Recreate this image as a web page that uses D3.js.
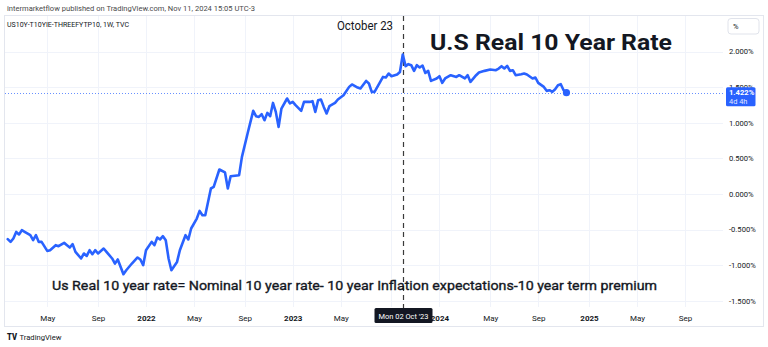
<!DOCTYPE html>
<html><head><meta charset="utf-8">
<script src="https://cdn.jsdelivr.net/npm/d3@7"></script>
<style>
html,body{margin:0;padding:0;background:#fff;}
svg{display:block;}
text{font-family:Roboto,"Liberation Sans",sans-serif;}
</style></head>
<body><svg id="c" width="768" height="347"></svg>
<script>
// ---------- data ----------
const headerText = "intermarketflow published on TradingView.com, Nov 11, 2024 15:05 UTC-3";
const symbolText = "US10Y-T10YIE-THREEFYTP10, 1W, TVC";
const titleText = "U.S Real 10 Year Rate";
const markerText = "October 23";
const formulaText = "Us Real 10 year rate= Nominal 10 year rate- 10 year Inflation expectations-10 year term premium";
const crosshairDate = "2023-10-02";
const crosshairLabel = "Mon 02 Oct '23";
const lastLabel = "1.422%";
const countdownLabel = "4d 4h";
const unitLabel = "%";

const dates = [
"2021-01-25","2021-02-01","2021-02-08","2021-02-15","2021-02-22","2021-03-01","2021-03-08","2021-03-22","2021-03-29","2021-04-05",
"2021-04-12","2021-04-19","2021-05-03","2021-05-10","2021-05-24","2021-05-31","2021-06-14","2021-06-21","2021-06-28","2021-07-05",
"2021-07-12","2021-07-26","2021-08-02","2021-08-09","2021-08-16","2021-08-23","2021-08-30","2021-09-06","2021-09-20","2021-09-27",
"2021-10-11","2021-10-18","2021-10-25","2021-11-08","2021-11-15","2021-11-29","2021-12-13","2021-12-20","2021-12-27","2022-01-03",
"2022-01-17","2022-01-24","2022-01-31","2022-02-07","2022-02-14","2022-02-21","2022-02-28","2022-03-07","2022-03-21","2022-03-28",
"2022-04-11","2022-04-18","2022-04-25","2022-05-09","2022-05-16","2022-05-23","2022-05-30","2022-06-13","2022-06-20","2022-07-04",
"2022-07-18","2022-07-25","2022-08-01","2022-08-22","2022-08-29","2022-09-12","2022-09-26","2022-10-03","2022-10-10","2022-10-17",
"2022-10-24","2022-10-31","2022-11-07","2022-11-14","2022-11-21","2022-11-28","2022-12-05","2022-12-19","2022-12-26","2023-01-02",
"2023-01-09","2023-01-23","2023-01-30","2023-02-13","2023-02-20","2023-02-27","2023-03-06","2023-03-13","2023-03-20","2023-03-27",
"2023-04-03","2023-04-17","2023-04-24","2023-05-08","2023-05-22","2023-05-29","2023-06-12","2023-06-19","2023-07-03","2023-07-10",
"2023-07-17","2023-07-24","2023-08-07","2023-08-14","2023-08-21","2023-08-28","2023-09-04","2023-09-18","2023-09-25","2023-10-02",
"2023-10-09","2023-10-16","2023-10-23","2023-10-30","2023-11-06","2023-11-13","2023-11-20","2023-11-27","2023-12-04","2023-12-11",
"2023-12-25","2024-01-01","2024-01-08","2024-01-15","2024-01-29","2024-02-12","2024-02-19","2024-03-04","2024-03-11","2024-03-18",
"2024-04-01","2024-04-08","2024-04-22","2024-05-06","2024-05-20","2024-05-27","2024-06-03","2024-06-10","2024-06-17","2024-06-24",
"2024-07-01","2024-07-08","2024-07-22","2024-07-29","2024-08-05","2024-08-19","2024-08-26","2024-09-02","2024-09-16","2024-09-23",
"2024-09-30","2024-10-07","2024-10-14","2024-10-21","2024-10-28","2024-11-04","2024-11-11"
];
const values = [
-0.636,-0.674,-0.626,-0.534,-0.570,-0.510,-0.534,-0.580,-0.650,-0.580,
-0.674,-0.674,-0.801,-0.791,-0.720,-0.735,-0.688,-0.720,-0.753,-0.706,
-0.815,-0.907,-0.837,-0.871,-0.791,-0.847,-0.791,-0.837,-0.767,-0.815,
-0.907,-0.978,-0.921,-1.128,-1.072,-0.978,-0.893,-0.921,-1.001,-0.791,
-0.674,-0.720,-0.612,-0.640,-0.594,-0.650,-0.907,-1.072,-0.955,-0.791,
-0.580,-0.640,-0.486,-0.346,-0.239,-0.299,-0.299,0.076,0.098,0.343,
0.301,0.076,0.249,0.263,0.520,0.848,1.166,1.091,1.081,1.119,
1.035,1.138,1.091,1.278,1.152,0.941,1.199,1.340,1.270,1.292,
1.246,1.166,1.292,1.292,1.302,1.152,1.316,1.326,1.222,1.129,
1.232,1.278,1.326,1.386,1.503,1.537,1.494,1.480,1.587,1.551,
1.433,1.433,1.573,1.643,1.635,1.691,1.653,1.677,1.713,1.958,
1.794,1.822,1.808,1.728,1.808,1.775,1.803,1.699,1.728,1.587,
1.621,1.653,1.559,1.621,1.667,1.643,1.667,1.621,1.667,1.573,
1.667,1.705,1.728,1.747,1.737,1.761,1.794,1.761,1.798,1.728,
1.737,1.667,1.681,1.691,1.677,1.621,1.635,1.559,1.503,1.447,
1.456,1.433,1.470,1.527,1.541,1.456,1.422
];
const xTickDates = ["2021-05-03","2021-09-06","2022-01-03","2022-05-02","2022-09-05","2023-01-02","2023-05-01","2023-09-04","2024-01-01","2024-05-06","2024-09-02","2025-01-06","2025-05-05","2025-09-01"];
const xTickLabels = ["May","Sep","2022","May","Sep","2023","May","Sep","2024","May","Sep","2025","May","Sep"];
const yTicks = [-1.5,-1.0,-0.5,0.0,0.5,1.0,1.5,2.0];

// ---------- layout ----------
const frame = {l:4, r:763, t:15, b:326};
const plot = {l:4, r:723, t:15, b:307};
const svg = d3.select("#c");
const parse = d3.utcParse("%Y-%m-%d");
const data = dates.map((d,i)=>({date:parse(d), v:values[i]}));

const x = d3.scaleUtc().domain([parse("2022-01-03"), parse("2025-01-06")]).range([146, 589]);
const y = d3.scaleLinear().domain([-1.5, 2.0]).range([300.7, 51.5]);
const cx = Math.round(x(parse(crosshairDate)))+0.5;
const tw = 58;

// header
svg.append("text").attr("x",7).attr("y",10.5).attr("font-size",7.6).attr("fill","#4a4a4a")
  .attr("textLength",248).attr("lengthAdjust","spacingAndGlyphs").text(headerText);

// frame
svg.append("rect").attr("x",frame.l+0.5).attr("y",frame.t+0.5).attr("width",frame.r-frame.l).attr("height",frame.b-frame.t)
  .attr("fill","#fff").attr("stroke","#e3e6ee").attr("stroke-width",1);

// gridlines
const grid = svg.append("g");
grid.selectAll("line.h").data(yTicks).join("line")
  .attr("x1",plot.l+1).attr("x2",plot.r).attr("y1",d=>Math.round(y(d))+0.5).attr("y2",d=>Math.round(y(d))+0.5)
  .attr("stroke","#f0f3fa").attr("stroke-width",1);
grid.selectAll("line.v").data(xTickDates).join("line")
  .attr("x1",d=>Math.round(x(parse(d)))+0.5).attr("x2",d=>Math.round(x(parse(d)))+0.5)
  .attr("y1",plot.t+1).attr("y2",plot.b)
  .attr("stroke","#f0f3fa").attr("stroke-width",1);

// symbol text
svg.append("text").attr("x",7).attr("y",27).attr("font-size",7.6).attr("fill","#131722")
  .attr("textLength",122).attr("lengthAdjust","spacingAndGlyphs").text(symbolText);

// price line (dotted)
const lastV = values[values.length-1];
svg.append("line").attr("x1",plot.l+1).attr("x2",plot.r).attr("y1",Math.round(y(lastV))+0.5).attr("y2",Math.round(y(lastV))+0.5)
  .attr("stroke","#2962ff").attr("stroke-width",1).attr("stroke-dasharray","1,2").attr("opacity",0.7);

// crosshair
svg.append("line").attr("x1",cx).attr("x2",cx).attr("y1",plot.t+1).attr("y2",plot.b+1)
  .attr("stroke","#3a3a3a").attr("stroke-width",1.2).attr("stroke-dasharray","5,4");

// series line
svg.append("defs").append("clipPath").attr("id","clip").append("rect")
  .attr("x",plot.l+1).attr("y",plot.t+1).attr("width",plot.r-plot.l-1).attr("height",plot.b-plot.t-1);
const line = d3.line().x(d=>x(d.date)).y(d=>y(d.v)).curve(d3.curveLinear);
svg.append("path").datum(data).attr("d",line).attr("clip-path","url(#clip)")
  .attr("fill","none").attr("stroke","#2962ff").attr("stroke-width",2.6).attr("stroke-linejoin","round").attr("stroke-linecap","round");
const last = data[data.length-1];
svg.append("circle").attr("cx",x(last.date)).attr("cy",y(last.v)).attr("r",3.6).attr("fill","#2962ff");

// annotations
svg.append("text").attr("x",337).attr("y",30).attr("font-size",12.5).attr("fill","#131722")
  .attr("font-family","'Noto Sans',sans-serif").attr("textLength",56).attr("lengthAdjust","spacingAndGlyphs").text(markerText);
svg.append("text").attr("x",430).attr("y",49.5).attr("font-size",22.5).attr("font-weight","bold").attr("fill","#131722")
  .attr("font-family","'DejaVu Sans',sans-serif").attr("textLength",242).attr("lengthAdjust","spacingAndGlyphs").text(titleText);
svg.append("text").attr("x",52).attr("y",289.5).attr("font-size",13.5).attr("fill","#131722")
  .attr("stroke","#131722").attr("stroke-width",0.35)
  .attr("font-family","'DejaVu Sans',sans-serif").attr("textLength",605).attr("lengthAdjust","spacingAndGlyphs").text(formulaText);

// x axis (labels hidden under the crosshair tooltip are not drawn, as in TradingView)
const xAxis = d3.axisBottom(x).tickValues(xTickDates.map(parse)).tickSize(0).tickPadding(0)
  .tickFormat((d,i)=>xTickLabels[i]);
const gx = svg.append("g").attr("transform",`translate(0,${plot.b})`).call(xAxis);
gx.select(".domain").remove();
gx.selectAll("text").attr("y",14).attr("dy",0).attr("font-size",8).attr("fill","#131722")
  .attr("font-family","Roboto,sans-serif")
  .attr("font-weight",(d,i)=>/^\d{4}$/.test(xTickLabels[i])?"bold":"normal")
  .attr("display",d=>Math.abs(x(d)-cx) < tw/2 ? "none" : null);

// y axis
const yAxis = d3.axisRight(y).tickValues(yTicks).tickSize(0).tickPadding(6)
  .tickFormat(d=>d3.format(".3f")(d).replace("\u2212","-")+"%");
const gy = svg.append("g").attr("transform",`translate(${plot.r},0)`).call(yAxis);
gy.select(".domain").remove();
gy.selectAll("text").attr("font-size",7.6).attr("fill","#131722").attr("font-family","Roboto,sans-serif");

// % box
svg.append("rect").attr("x",728).attr("y",18.5).attr("width",31).attr("height",15.5).attr("rx",3)
  .attr("fill","#fff").attr("stroke","#e0e3eb");
svg.append("text").attr("x",733).attr("y",29).attr("font-size",7.5).attr("fill","#131722").text(unitLabel);

// last value label
const ly = y(lastV);
svg.append("rect").attr("x",726).attr("y",ly-5.5).attr("width",29.5).attr("height",19).attr("rx",1.5).attr("fill","#2962ff");
svg.append("text").attr("x",729).attr("y",ly+2).attr("font-size",7.6).attr("font-weight","bold").attr("fill","#fff").text(lastLabel);
svg.append("text").attr("x",729).attr("y",ly+11).attr("font-size",7.4).attr("fill","#fff").attr("opacity",0.85).text(countdownLabel);

// crosshair tooltip
svg.append("rect").attr("x",cx-tw/2).attr("y",plot.b+1).attr("width",tw).attr("height",15).attr("rx",1.5).attr("fill","#131722");
svg.append("text").attr("x",cx).attr("y",plot.b+11.5).attr("text-anchor","middle").attr("font-size",8).attr("fill","#fff")
  .attr("textLength",50).attr("lengthAdjust","spacingAndGlyphs").text(crosshairLabel);

// footer logo
const logo = svg.append("g").attr("transform","translate(7,333)");
logo.append("text").attr("x",0).attr("y",7).attr("font-size",9).attr("font-weight","900").attr("fill","#131722")
  .attr("textLength",10).attr("lengthAdjust","spacingAndGlyphs").text("TV");
logo.append("text").attr("x",12.5).attr("y",7).attr("font-size",8).attr("fill","#131722")
  .attr("textLength",42).attr("lengthAdjust","spacingAndGlyphs").text("TradingView");
</script></body></html>
